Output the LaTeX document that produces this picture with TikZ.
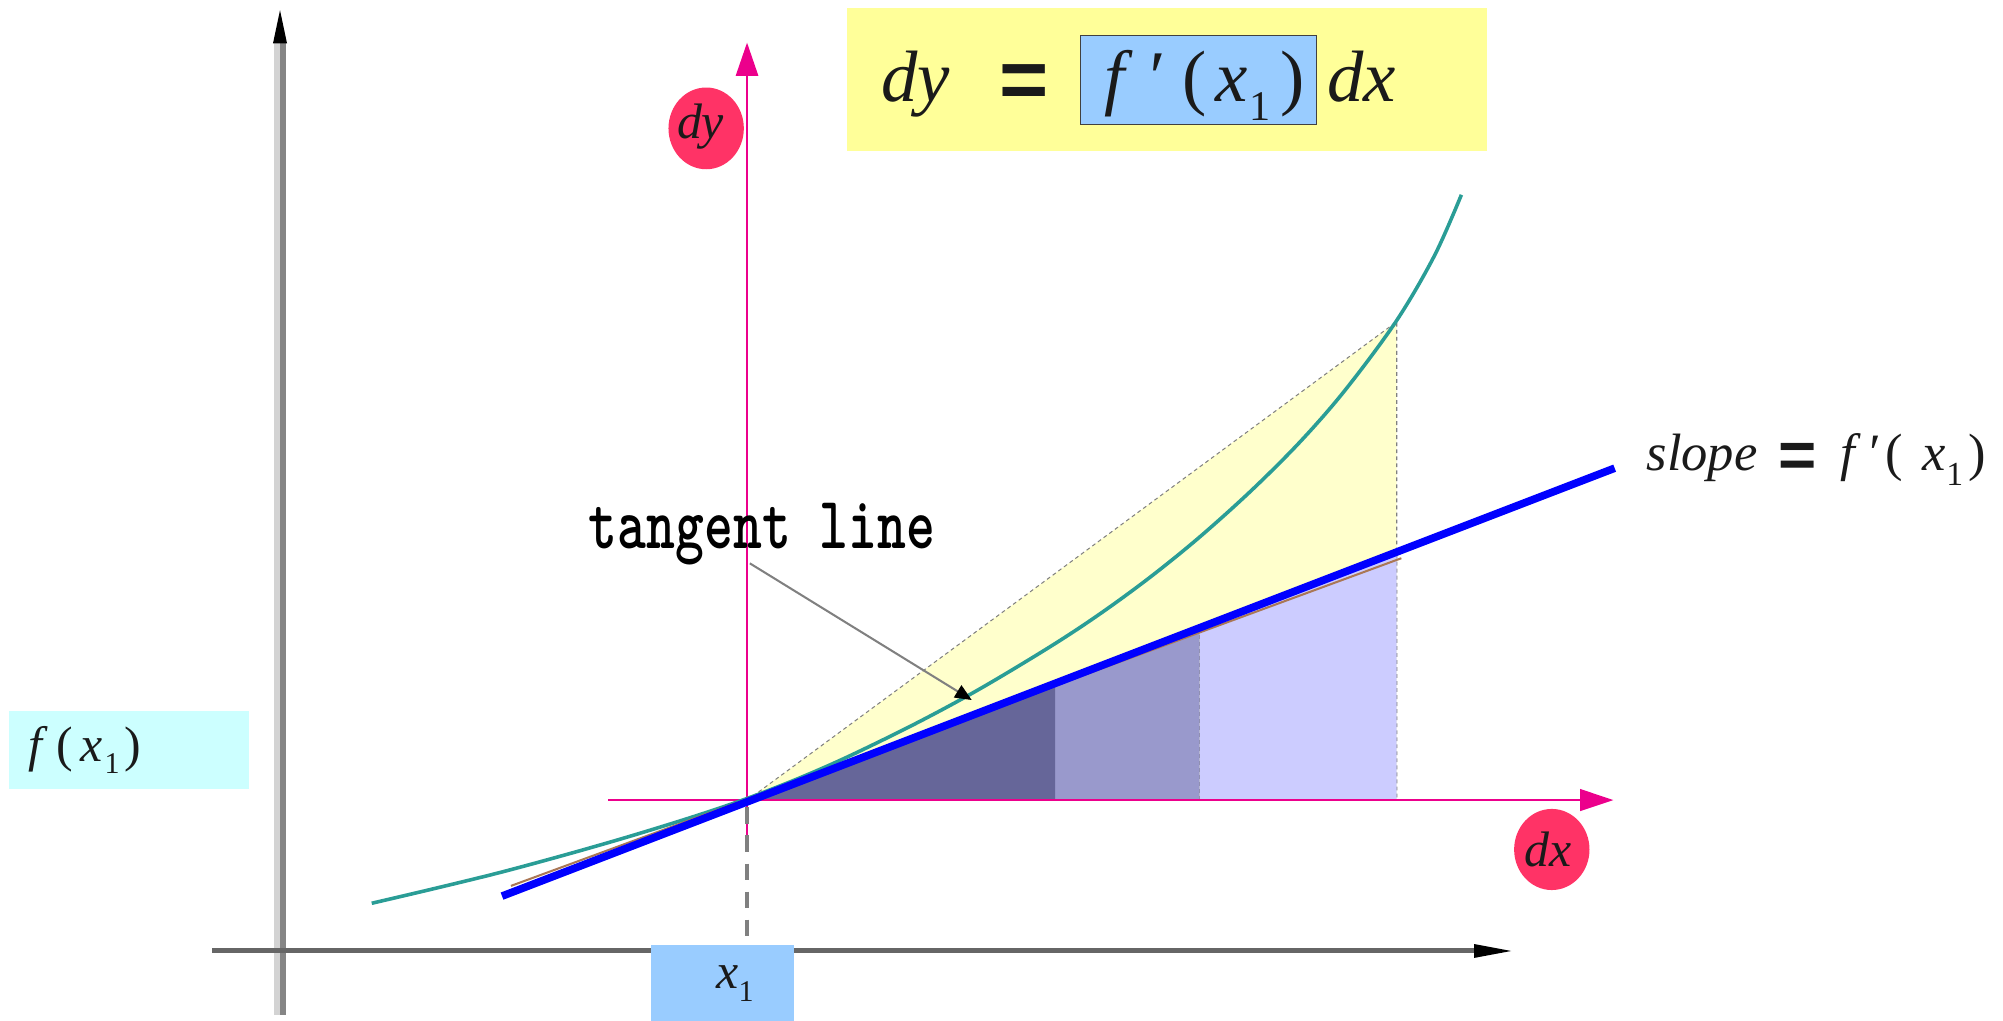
\documentclass[tikz,border=0pt]{standalone}
\usepackage{fontspec}
\setmainfont{Liberation Serif}
\newfontfamily\eqsans{Liberation Sans}
\usetikzlibrary{arrows.meta,shapes.geometric}
\definecolor{eqyellow}{HTML}{FFFF99}
\definecolor{boxblue}{HTML}{99CCFF}
\definecolor{boxcyan}{HTML}{CCFFFF}
\definecolor{regyellow}{HTML}{FFFFCC}
\definecolor{pdark}{HTML}{666699}
\definecolor{pmid}{HTML}{9999CC}
\definecolor{plight}{HTML}{CCCCFF}
\definecolor{dotred}{HTML}{FF3366}
\definecolor{curveteal}{HTML}{2A9D96}
\definecolor{tanline}{HTML}{AA7755}
\definecolor{axdark}{HTML}{858585}
\definecolor{axlight}{HTML}{D3D3D3}
\definecolor{axhor}{HTML}{666666}
\definecolor{dashgray}{HTML}{808080}
\definecolor{boxedge}{HTML}{404040}
\definecolor{inkblack}{HTML}{1A1A1A}
% glyph placed at an absolute offset from the node origin
\newcommand{\glat}[2]{\makebox[0pt][l]{\hspace{#1}#2}}
\newcommand{\sone}[2]{\raisebox{-#1}{\fontsize{#2}{#2}\selectfont 1}}
\tikzset{
  lbl/.style={inner sep=0, outer sep=0, anchor=base west, text=inkblack,
              font=\fontsize{11.1pt}{11.1pt}\selectfont},
  biglbl/.style={lbl, font=\fontsize{16.2pt}{16.2pt}\selectfont},
  slopelbl/.style={lbl, font=\fontsize{11.7pt}{11.7pt}\selectfont},
  thindash/.style={draw=dashgray, line width=0.08mm, dash pattern=on 0.3mm off 0.25mm},
  magaxis/.style={draw=magenta, line width=0.13mm},
  ball/.style={ellipse, fill=dotred, inner sep=0, minimum width=5.9mm, minimum height=6.4mm},
  flatbox/.style={inner sep=0, outer sep=0},
}
\begin{document}
\begin{tikzpicture}[x=0.1mm, y=-0.1mm]
\useasboundingbox (0,0) rectangle (1568,799);

% key points
\coordinate (T) at (585,626.5);
\coordinate (Q) at (1093.4,251.8);
\coordinate (QB) at (1093.4,626.5);

% yellow region between chord and axis
\fill[regyellow] (T) -- (Q) -- (QB) -- cycle;
\draw[thindash] (T) -- (Q) -- (QB);

% purple regions under the tangent line
\fill[plight] (939,626.5) -- (939,491.5) -- (1093.4,432.1) -- (QB) -- cycle;
\draw[thindash] (939,491.5) -- (939,626.5) -- (QB);
\fill[pmid] (826,626.5) -- (826,535) -- (939,491.5) -- (939,626.5) -- cycle;
\fill[pdark] (588,626.5) -- (826,535) -- (826,626.5) -- cycle;

% main axes
\fill[axlight] (214.5,34) rectangle (219.2,794.6);
\fill[axdark] (219.2,34) rectangle (224,794.6);
\fill[black] (219.2,8) -- (224.7,34) -- (213.7,34) -- cycle;
\fill[axhor] (166,742.5) rectangle (1154,746.4);
\fill[black] (1154,739) -- (1183,744.45) -- (1154,749.9) -- cycle;

% small magenta axes
\draw[magaxis, -{Triangle[length=2.6mm,width=1.75mm]}] (584.8,666) -- (584.8,33.4);
\draw[magaxis, -{Triangle[length=2.6mm,width=1.7mm]}] (476,626.3) -- (1263,626.3);

% dashed drop to x1
\draw[draw=dashgray, line width=0.33mm, dash pattern=on 1.3mm off 0.9mm] (585,632) -- (585,740);

% the curve
\draw[curveteal, line width=0.28mm] plot[smooth, tension=0.55] coordinates {
 (291,707.1) (340,695.6) (393,682.6) (450,667.1) (498,653.2) (545,638.6) (585,625)
 (625,609.4) (665,591.8) (718,565.8) (767,539.3) (822,506.3) (861,480.6) (900,452.1)
 (939,420.5) (980,383.6) (1018,345.6) (1053,305.4) (1093,251.4) (1123,200) (1144,152.5)};

% tangent lines
\draw[tanline, line width=0.16mm] (400,693.5) -- (1097,437);
\draw[blue, line width=0.6mm] (393,701.5) -- (1264,366.5);

% boxes
\node[flatbox, fill=boxcyan, minimum width=18.8mm, minimum height=6.17mm] (fxbox) at (101,587.15) {};
\node[flatbox, fill=boxblue, minimum width=11.14mm, minimum height=5.9mm] (xbox) at (565.7,769.5) {};
\node[flatbox, fill=eqyellow, minimum width=50.14mm, minimum height=11.15mm] (eqbox) at (913.7,62.25) {};
\node[flatbox, fill=boxblue, draw=boxedge, line width=0.08mm, minimum width=18.48mm, minimum height=6.92mm] (fpbox) at (938.4,62.5) {};

% red balls
\node[ball] (dyball) at (552.8,100.5) {};
\node[ball, minimum height=6.35mm] (dxball) at (1214.8,665) {};

% texts
\node[biglbl] (eqdy) at (690,79.6) {\textit{dy}};
\node[inner sep=0, anchor=base, text=inkblack, font=\eqsans\bfseries\fontsize{18.8pt}{18.8pt}\selectfont] (eqsign) at (801.5,85) {=};
\node[biglbl] (eqfp) at (863,79.6) {\glat{0mm}{\textit{f}}\glat{3.2mm}{\textit{′}}\glat{6.1mm}{(}\glat{8.66mm}{\textit{x}}\glat{11.3mm}{\sone{1.44mm}{9.4pt}}\glat{13.8mm}{)}};
\node[biglbl] (eqdx) at (1039,79.6) {\textit{dx}};

\node[slopelbl] (slopetxt) at (1289,368) {\textit{slope}};
\node[inner sep=0, anchor=base, text=inkblack, font=\eqsans\bfseries\fontsize{14.6pt}{14.6pt}\selectfont] (slopeeq) at (1407.3,373.6) {=};
\node[slopelbl] (slopefp) at (1438.8,368) {\glat{0mm}{\textit{f}}\glat{2.06mm}{\textit{′}}\glat{3.55mm}{(}\glat{6.41mm}{\textit{x}}\glat{8.32mm}{\sone{1.17mm}{7.5pt}}\glat{10.06mm}{)}};

\node[lbl] (fxtxt) at (20.2,596.3) {\glat{0mm}{\textit{f}}\glat{2.24mm}{(}\glat{4.08mm}{\textit{x}}\glat{5.99mm}{\sone{0.9mm}{6.7pt}}\glat{7.54mm}{)}};
\node[lbl] (xtxt) at (558.8,773.7) {\glat{0mm}{\textit{x}}\glat{1.77mm}{\sone{1.05mm}{6.7pt}}};
\node[lbl] (dytxt) at (530,108.3) {\textit{dy}};
\node[lbl] (dxtxt) at (1193.5,678.5) {\textit{dx}};

% tangent line label and pointer
\node[inner sep=0, outer sep=0, anchor=base west, text=black, font=\ttfamily\bfseries\fontsize{16.5pt}{16.5pt}\selectfont] (tanlbl) at (461,429.2) {\scalebox{0.742}[1]{tangent line}};
\coordinate (ptrtip) at (760.7,548);
\draw[dashgray, line width=0.16mm, -{Triangle[length=1.3mm,width=1.1mm,color=black]}] (587,441) -- (ptrtip);
\end{tikzpicture}
\end{document}
